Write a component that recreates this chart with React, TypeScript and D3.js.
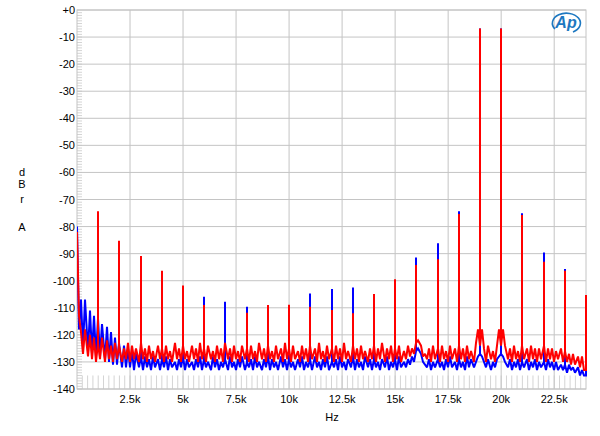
import React from 'react';
import * as d3 from 'd3';

// noise floor, one value per 100 Hz step (0 .. 24 kHz)
const noiseStepHz = 100;

const redNoise = [
  -82, -113, -119, -127, -118, -128, -120, -129, -121, -130,
  -123, -129, -121, -130, -122, -129, -124, -130, -123, -129,
  -124, -130, -125, -129, -123, -130, -124, -129, -125, -130,
  -123, -129, -125, -130, -124, -129, -126, -130, -124, -129,
  -125, -130, -124, -129, -126, -130, -123, -129, -125, -130,
  -124, -129, -126, -130, -124, -129, -125, -130, -123, -129,
  -125, -130, -124, -129, -126, -130, -124, -129, -125, -130,
  -123, -129, -125, -130, -124, -129, -126, -130, -124, -129,
  -125, -130, -124, -129, -126, -130, -123, -129, -125, -130,
  -124, -129, -126, -130, -124, -129, -125, -130, -123, -129,
  -125, -130, -124, -129, -126, -130, -124, -129, -125, -130,
  -124, -129, -125, -130, -123, -129, -126, -130, -124, -129,
  -125, -130, -124, -129, -125, -130, -123, -129, -126, -130,
  -124, -129, -125, -130, -124, -129, -126, -130, -125, -129,
  -124, -130, -125, -129, -123, -130, -125, -129, -124, -130,
  -125, -129, -124, -130, -126, -129, -124, -128, -125, -127,
  -123, -122, -124, -128, -127, -129, -125, -130, -124, -129,
  -125, -130, -124, -129, -126, -130, -124, -129, -125, -130,
  -124, -129, -125, -130, -124, -129, -126, -130, -123, -118,
  -124, -118, -125, -130, -124, -129, -126, -130, -124, -118,
  -124, -118, -124, -129, -125, -130, -124, -129, -126, -130,
  -124, -129, -125, -130, -124, -129, -125, -130, -125, -129,
  -124, -130, -125, -129, -125, -130, -126, -129, -125, -130,
  -126, -130, -127, -131, -127, -131, -128, -132, -128, -133,
  -133,
];

const blueNoise = [
  -80, -118, -107, -125, -107, -126, -111, -127, -113, -128,
  -114, -128, -116, -129, -117, -130, -119, -131, -121, -131,
  -123, -132, -124, -132, -125, -132, -126, -133, -127, -132,
  -128, -133, -128, -132, -129, -133, -128, -132, -129, -133,
  -129, -132, -128, -133, -129, -132, -130, -133, -129, -132,
  -128, -133, -129, -132, -130, -133, -129, -132, -128, -133,
  -129, -132, -130, -133, -128, -132, -129, -133, -130, -132,
  -129, -133, -128, -132, -130, -133, -129, -132, -128, -133,
  -130, -132, -129, -133, -128, -132, -130, -133, -129, -132,
  -128, -133, -129, -132, -130, -133, -128, -132, -129, -133,
  -129, -132, -130, -133, -129, -132, -128, -133, -130, -132,
  -129, -133, -128, -132, -130, -133, -129, -132, -128, -133,
  -130, -132, -129, -133, -128, -132, -130, -133, -129, -132,
  -128, -133, -129, -132, -130, -133, -128, -132, -129, -133,
  -129, -132, -130, -133, -129, -132, -128, -133, -130, -132,
  -129, -133, -128, -132, -130, -132, -129, -131, -128, -130,
  -126, -125, -127, -130, -131, -132, -129, -133, -130, -132,
  -129, -132, -130, -133, -129, -132, -128, -132, -130, -133,
  -129, -132, -130, -133, -128, -132, -129, -132, -130, -128,
  -127, -128, -130, -132, -129, -133, -130, -132, -129, -128,
  -127, -128, -130, -132, -129, -133, -130, -132, -129, -133,
  -130, -132, -129, -133, -130, -132, -129, -133, -130, -132,
  -130, -133, -129, -132, -130, -133, -130, -133, -131, -133,
  -131, -134, -131, -133, -132, -134, -132, -135, -133, -135,
  -135,
];

// discrete tones (Hz / dBr)
const redPeakHz = [1000, 2000, 3000, 4000, 5000, 6000, 8000, 9000, 10000, 11000, 12000, 13000, 14000, 15000, 16000, 17000, 18000, 19000, 20000, 21000, 22000, 23000, 24000];
const redPeakDb = [-74.3, -85.2, -90.9, -96.3, -101.8, -109, -111.8, -109, -108.9, -109.6, -110.8, -112, -104.9, -99.5, -94.2, -92.1, -75.4, -6.8, -6.8, -75.7, -93, -96.3, -105.3];

const bluePeakHz = [1000, 2000, 3000, 4000, 5000, 6000, 7000, 8000, 9000, 10000, 11000, 12000, 13000, 14000, 15000, 16000, 17000, 18000, 19000, 20000, 21000, 22000, 23000, 24000];
const bluePeakDb = [-75, -86, -91.5, -97, -102.5, -105.9, -107.8, -109.6, -112, -112, -104.7, -103.1, -102.5, -107, -101, -91.4, -86.2, -74.3, -6.8, -6.8, -75.1, -89.6, -95.7, -105.5];

const yTicks = [0, -10, -20, -30, -40, -50, -60, -70, -80, -90, -100, -110, -120, -130, -140];
const xTicks = [2500, 5000, 7500, 10000, 12500, 15000, 17500, 20000, 22500];
const xTickLabels = ['2.5k', '5k', '7.5k', '10k', '12.5k', '15k', '17.5k', '20k', '22.5k'];

const W = 600;
const H = 436;
const font = '"Liberation Sans", Arial, sans-serif';

const buildSeries = (noise: number[], peakHz: number[], peakDb: number[]) => {
  const pts: [number, number][] = [];
  noise.forEach((v, i) => {
    const f = i * noiseStepHz;
    pts.push([f, v]);
    const k = peakHz.indexOf(f);
    if (k >= 0) {
      pts.push([f, peakDb[k]]);
      pts.push([f, v]);
    }
  });
  return pts;
};

export default function App() {
  const x = d3.scaleLinear().domain([0, 24000]).range([77, 586]);
  const y = d3.scaleLinear().domain([-140, 0]).range([389, 10]);
  // snap to whole pixels so the 2px tone lines render solid
  const line = d3.line<[number, number]>().x(d => Math.round(x(d[0]))).y(d => y(d[1]));

  const blue = buildSeries(blueNoise, bluePeakHz, bluePeakDb);
  const red = buildSeries(redNoise, redPeakHz, redPeakDb);

  const minorDb = d3.range(-140, 0, 1);
  const minorHz = d3.range(250, 24000, 250);

  return (
    <svg width={W} height={H} style={{ position: 'absolute', left: 0, top: 0, background: '#fff' }}>
      <defs>
        <clipPath id="plot">
          <rect x={x(0)} y={y(0) - 2} width={x(24000) - x(0) + 1} height={y(-140) - y(0) + 2} />
        </clipPath>
      </defs>

      {/* minor ticks */}
      {minorDb.map(d => (
        <line key={'md' + d} x1={x(0)} x2={x(0) + 5} y1={y(d)} y2={y(d)} stroke="#d4d4d4" strokeWidth={1} />
      ))}
      {minorHz.map(f => (
        <line key={'mh' + f} x1={x(f)} x2={x(f)} y1={y(-135)} y2={y(-140)} stroke="#d4d4d4" strokeWidth={1} />
      ))}

      {/* grid */}
      {yTicks.map(t => (
        <line key={'gy' + t} x1={x(0)} x2={x(24000)} y1={y(t)} y2={y(t)} stroke="#c4c4c4" strokeWidth={1} />
      ))}
      {xTicks.map(t => (
        <line key={'gx' + t} x1={x(t)} x2={x(t)} y1={y(0)} y2={y(-140)} stroke="#c4c4c4" strokeWidth={1} />
      ))}
      <rect x={x(0)} y={y(0)} width={x(24000) - x(0)} height={y(-140) - y(0)} fill="none" stroke="#c4c4c4" strokeWidth={1} />

      {/* traces */}
      <g clipPath="url(#plot)">
        <path d={line(blue) || ''} fill="none" stroke="#0000ff" strokeWidth={2} strokeLinejoin="miter" strokeMiterlimit={2} />
        <path d={line(red) || ''} fill="none" stroke="#ff0000" strokeWidth={2} strokeLinejoin="miter" strokeMiterlimit={2} />
      </g>

      {/* y labels */}
      {yTicks.map(t => (
        <text key={'ly' + t} x={75} y={y(t) + 4} textAnchor="end" fontFamily={font} fontSize={11} fill="#000">
          {t === 0 ? '+0' : String(t)}
        </text>
      ))}
      {xTicks.map((t, i) => (
        <text key={'lx' + t} x={x(t)} y={403} textAnchor="middle" fontFamily={font} fontSize={11} fill="#000">
          {xTickLabels[i]}
        </text>
      ))}

      {/* axis titles */}
      <text x={22} y={176} textAnchor="middle" fontFamily={font} fontSize={11}>d</text>
      <text x={22} y={188} textAnchor="middle" fontFamily={font} fontSize={11}>B</text>
      <text x={22} y={203} textAnchor="middle" fontFamily={font} fontSize={11}>r</text>
      <text x={22} y={231} textAnchor="middle" fontFamily={font} fontSize={11}>A</text>
      <text x={332} y={421} textAnchor="middle" fontFamily={font} fontSize={11}>Hz</text>

      {/* Ap logo */}
      <g transform="translate(567,23)">
        <path d="M -12 6 A 14 10 0 1 1 6 9" fill="none" stroke="#1d78c1" strokeWidth={1.6} />
        <text x={-1} y={5} textAnchor="middle" fontFamily={font} fontSize={16} fontStyle="italic" fontWeight="bold" fill="#1d78c1">Ap</text>
      </g>
    </svg>
  );
}
